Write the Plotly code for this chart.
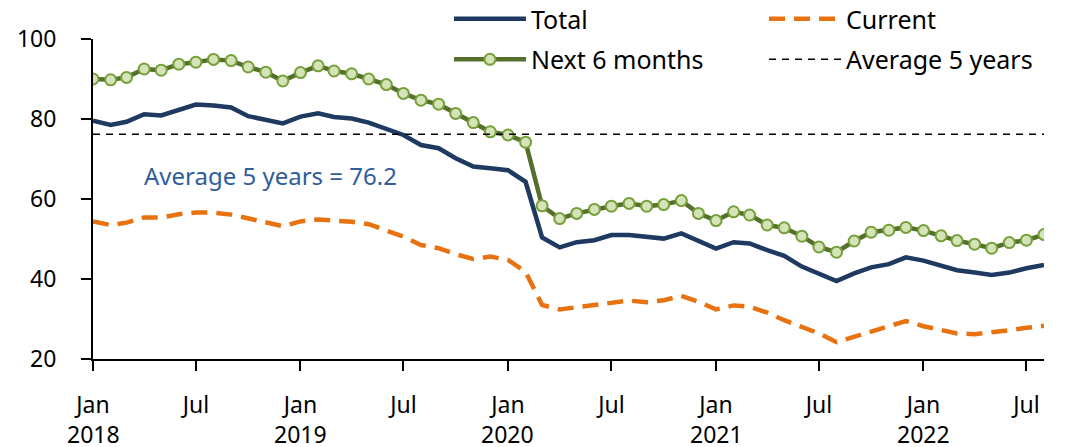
import pandas as pd
import plotly.graph_objects as go

months = pd.date_range("2018-01-01", periods=56, freq="MS")

total = [79.6, 78.5, 79.3, 81.2, 80.9, 82.3, 83.6, 83.4, 82.9, 80.7, 79.7, 78.9,
         80.6, 81.4, 80.5, 80.1, 79.1, 77.4, 76.0, 73.5, 72.7, 70.2, 68.1, 67.7,
         67.2, 64.3, 50.4, 47.9, 49.2, 49.7, 51.0, 51.0, 50.6, 50.1, 51.4, 49.5,
         47.6, 49.2, 48.9, 47.2, 45.8, 43.1, 41.2, 39.5, 41.4, 42.9, 43.7, 45.4,
         44.6, 43.2, 42.2, 41.6, 41.0, 41.6, 42.7, 43.5]

current = [54.4, 53.5, 54.1, 55.4, 55.4, 56.2, 56.6, 56.6, 56.1, 55.2, 54.1, 53.2,
           54.4, 54.9, 54.6, 54.3, 53.7, 52.2, 50.6, 48.5, 47.7, 46.2, 45.0, 45.6,
           44.8, 41.8, 33.5, 32.4, 33.0, 33.5, 34.2, 34.6, 34.2, 34.7, 35.8, 34.3,
           32.4, 33.4, 33.1, 31.6, 29.7, 28.1, 26.4, 24.2, 25.6, 26.8, 28.1, 29.5,
           28.2, 27.2, 26.4, 26.2, 26.6, 27.2, 27.8, 28.3]

next6 = [90.0, 89.8, 90.4, 92.5, 92.2, 93.7, 94.2, 94.9, 94.6, 93.0, 91.7, 89.5,
         91.6, 93.3, 92.0, 91.3, 90.0, 88.6, 86.4, 84.7, 83.7, 81.4, 79.1, 76.8,
         76.0, 74.2, 58.3, 55.1, 56.4, 57.4, 58.2, 58.9, 58.2, 58.6, 59.6, 56.4,
         54.6, 56.8, 56.0, 53.5, 52.8, 50.7, 48.0, 46.7, 49.5, 51.7, 52.2, 52.9,
         52.1, 50.8, 49.6, 48.7, 47.7, 49.1, 49.7, 51.1]

avg5 = 76.2

tick_vals = pd.date_range("2018-01-01", "2022-07-01", freq="6MS")
tick_text = ["Jan", "Jul", "Jan", "Jul", "Jan", "Jul", "Jan", "Jul", "Jan", "Jul"]
year_vals = pd.date_range("2018-01-01", "2022-01-01", freq="12MS")
year_text = ["2018", "2019", "2020", "2021", "2022"]

font = "Noto Sans"

fig = go.Figure()
fig.add_trace(go.Scatter(x=months, y=total, name="Total", mode="lines",
                         line=dict(color="#1F3A60", width=4.5),
                         legend="legend", legendgroup="a"))
fig.add_trace(go.Scatter(x=months, y=next6, name="Next 6 months", mode="lines+markers",
                         line=dict(color="#55702A", width=4.5),
                         marker=dict(size=11, color="#D5E3B8",
                                     line=dict(color="#76A03A", width=2)),
                         legend="legend", legendgroup="b"))
fig.add_trace(go.Scatter(x=months, y=current, name="Current", mode="lines",
                         line=dict(color="#E8720F", width=4.5, dash="16px,9px"),
                         legend="legend2", legendgroup="c"))
fig.add_trace(go.Scatter(x=[months[0], months[-1]], y=[avg5, avg5], name="Average 5 years",
                         mode="lines", line=dict(color="black", width=1.5, dash="7px,6px"),
                         legend="legend2", legendgroup="d"))

fig.add_annotation(x="2018-11-10", y=66, text="Average 5 years = 76.2", showarrow=False,
                   font=dict(size=24, color="#2F5E9A", family=font))

for xv, yt in zip(year_vals, year_text):
    fig.add_annotation(x=xv, y=0, yref="paper", yanchor="middle", yshift=-75,
                       text=yt, showarrow=False, font=dict(size=23, family=font))

# the page body adds an 8px offset at top-left, so the figure is 8px smaller than the window
leg = dict(xanchor="left", yanchor="top", bgcolor="rgba(0,0,0,0)",
           font=dict(size=25), tracegroupgap=5, itemwidth=72)
fig.update_layout(
    width=1058, height=439,
    margin=dict(l=85, r=22, t=31, b=88, autoexpand=False),
    plot_bgcolor="white", paper_bgcolor="white",
    font=dict(family=font, size=23, color="black"),
    legend=dict(leg, x=0.3743, y=1.134),
    legend2=dict(leg, x=0.7056, y=1.134),
)
fig.update_xaxes(
    range=[months[0], months[-1]], tickvals=tick_vals, ticktext=tick_text,
    showline=True, linecolor="black", linewidth=2, ticks="outside", ticklen=10,
    tickwidth=2, tickcolor="black", showgrid=False, zeroline=False,
    automargin=False, ticklabelstandoff=14,
)
fig.update_yaxes(
    range=[20, 100], tickvals=[20, 40, 60, 80, 100],
    showline=True, linecolor="black", linewidth=2, ticks="outside", ticklen=10,
    tickwidth=2, tickcolor="black", showgrid=False, zeroline=False,
    automargin=False, ticklabelstandoff=20,
)

fig.write_html("out.html")
